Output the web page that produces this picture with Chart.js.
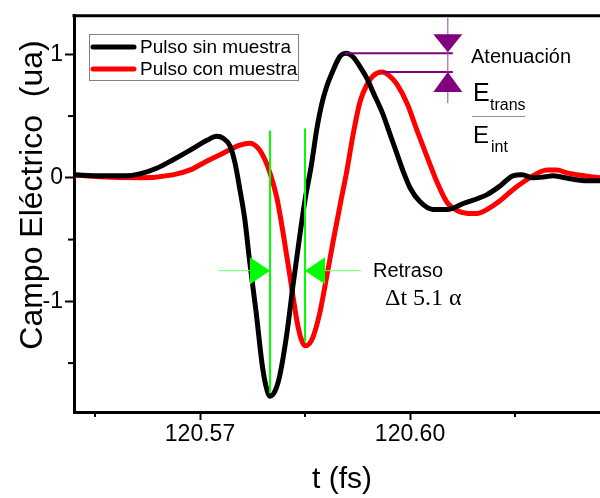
<!DOCTYPE html>
<html>
<head>
<meta charset="utf-8">
<script src="https://cdn.jsdelivr.net/npm/chart.js@4.4.1/dist/chart.umd.min.js"></script>
<style>
  html, body { margin: 0; padding: 0; background: #fff; }
  #wrap { width: 600px; height: 498px; }
</style>
</head>
<body>
<div id="wrap"><canvas id="myChart"></canvas></div>
<script>
// Data
var seriesNames = ["Pulso sin muestra", "Pulso con muestra"];
var tSin = [120.5520, 120.5557, 120.5593, 120.5614, 120.5639, 120.5661, 120.5686, 120.5710, 120.5724, 120.5733,
  120.5743, 120.5750, 120.5757, 120.5764, 120.5771, 120.5780, 120.5789, 120.5794, 120.5800, 120.5807,
  120.5814, 120.5824, 120.5833, 120.5843, 120.5850, 120.5859, 120.5867, 120.5874, 120.5881, 120.5889,
  120.5896, 120.5901, 120.5909, 120.5919, 120.5929, 120.5939, 120.5947, 120.5961, 120.5971, 120.5981,
  120.5990, 120.6000, 120.6014, 120.6033, 120.6053, 120.6076, 120.6110, 120.6129, 120.6147, 120.6160,
  120.6176, 120.6193, 120.6204, 120.6229, 120.6253, 120.6271];
var eSin = [0.024, 0.016, 0.016, 0.032, 0.08, 0.144, 0.224, 0.304, 0.336, 0.32,
  0.256, 0.12, -0.096, -0.336, -0.68, -1.08, -1.52, -1.68, -1.768, -1.728,
  -1.60, -1.264, -0.864, -0.45, -0.18, 0.10, 0.40, 0.60, 0.74, 0.855,
  0.944, 0.99, 1.008, 0.976, 0.896, 0.80, 0.696, 0.52, 0.36, 0.20,
  0.056, -0.08, -0.192, -0.256, -0.256, -0.208, -0.136, -0.064, 0.016, 0.024,
  0.0, 0.008, 0.016, -0.008, -0.024, -0.024];
var tCon = [120.5520, 120.5557, 120.5614, 120.5661, 120.5686, 120.5710, 120.5733, 120.5757, 120.5771, 120.5783,
  120.5793, 120.5800, 120.5810, 120.5819, 120.5829, 120.5839, 120.5844, 120.5850, 120.5856, 120.5861,
  120.5871, 120.5881, 120.5890, 120.5900, 120.5910, 120.5919, 120.5929, 120.5939, 120.5947, 120.5960,
  120.5971, 120.5981, 120.5996, 120.6010, 120.6024, 120.6039, 120.6053, 120.6067, 120.6083, 120.6096,
  120.6110, 120.6129, 120.6147, 120.6171, 120.6196, 120.6210, 120.6224, 120.6250, 120.6271];
var eCon = [0.024, 0.008, 0.0, 0.024, 0.064, 0.136, 0.20, 0.264, 0.28, 0.24,
  0.144, 0.04, -0.168, -0.456, -0.816, -1.176, -1.296, -1.36, -1.344, -1.296,
  -1.096, -0.80, -0.52, -0.224, 0.064, 0.36, 0.624, 0.76, 0.824, 0.856,
  0.824, 0.76, 0.60, 0.384, 0.176, -0.04, -0.20, -0.264, -0.288, -0.288,
  -0.256, -0.184, -0.096, 0.0, 0.064, 0.064, 0.04, 0.016, 0.0];

var xTicks = [120.555, 120.57, 120.585, 120.60, 120.615];
var xLabels = ["", "120.57", "", "120.60", ""];
var yTicks = [-1.5, -1, -0.5, 0, 0.5, 1];
var yLabels = ["", "-1", "", "0", "", "1"];

// annotation anchors (data units)
var minSin = [120.5800, -1.768];
var minCon = [120.5850, -1.36];
var peakSin = [120.5907, 1.008];
var peakCon = [120.5960, 0.856];
var delayY = -0.752;
var markX = 120.6054;

var sans = "'Liberation Sans', Arial, sans-serif";
var serif = "'Liberation Serif', 'Times New Roman', serif";

function toPoints(xs, ys) {
  return xs.map(function (v, i) { return { x: v, y: ys[i] }; });
}

function tri(ctx, pts, color) {
  ctx.fillStyle = color;
  ctx.beginPath();
  ctx.moveTo(pts[0][0], pts[0][1]);
  ctx.lineTo(pts[1][0], pts[1][1]);
  ctx.lineTo(pts[2][0], pts[2][1]);
  ctx.closePath();
  ctx.fill();
}

function line(ctx, x1, y1, x2, y2, color, w) {
  ctx.strokeStyle = color;
  ctx.lineWidth = w;
  ctx.beginPath();
  ctx.moveTo(x1, y1);
  ctx.lineTo(x2, y2);
  ctx.stroke();
}

var annot = {
  id: "annot",
  afterDatasetsDraw: function (chart) {
    var ctx = chart.ctx, a = chart.chartArea;
    var sx = chart.scales.x, sy = chart.scales.y;
    var px = function (v) { return sx.getPixelForValue(v); };
    var py = function (v) { return sy.getPixelForValue(v); };
    ctx.save();
    ctx.lineCap = "butt";

    // top frame
    line(ctx, a.left - 1.5, a.top, a.right, a.top, "#000", 3);

    // minor ticks
    xTicks.forEach(function (v, i) {
      if (!xLabels[i]) line(ctx, px(v), a.bottom, px(v), a.bottom + 5, "#000", 2);
    });
    yTicks.forEach(function (v, i) {
      if (!yLabels[i]) line(ctx, a.left, py(v), a.left - 6, py(v), "#000", 2);
    });

    // delay markers (green)
    var g = "#00ff00";
    var xl = px(minSin[0]), xr = px(minCon[0]), ya = py(delayY);
    line(ctx, xl, py(0.384), xl, py(minSin[1]) - 3, g, 2);
    line(ctx, xr, py(0.40), xr, py(minCon[1]) - 4, g, 2);
    line(ctx, xl - 51, ya, xl - 20, ya, "#66ff66", 1);
    tri(ctx, [[xl - 20, ya - 13.5], [xl - 20, ya + 13.5], [xl, ya]], g);
    line(ctx, xr + 20, ya, xr + 56, ya, "#66ff66", 1);
    tri(ctx, [[xr + 20, ya - 13.5], [xr + 20, ya + 13.5], [xr, ya]], g);

    // attenuation markers (purple)
    var p = "#800080";
    var xm = px(markX), y1 = py(peakSin[1]), y2 = py(peakCon[1]);
    line(ctx, px(peakSin[0]), y1, xm + 5, y1, p, 2);
    line(ctx, px(peakCon[0]), y2, xm + 5, y2, p, 2);
    line(ctx, xm, a.top + 2, xm, y2 + 31, "#a040a0", 1);
    tri(ctx, [[xm - 14.5, y1 - 19], [xm + 14.5, y1 - 19], [xm, y1 - 1]], p);
    tri(ctx, [[xm - 14.5, y2 + 20], [xm + 14.5, y2 + 20], [xm, y2]], p);

    // legend
    ctx.strokeStyle = "#808080";
    ctx.lineWidth = 1;
    ctx.strokeRect(89.5, 34.5, 209, 46);
    ctx.lineCap = "round";
    line(ctx, 93, 47, 134, 47, "#000", 5);
    line(ctx, 93, 69, 134, 69, "#ff0000", 5);
    ctx.fillStyle = "#000";
    ctx.textAlign = "left";
    ctx.textBaseline = "alphabetic";
    ctx.font = "19px " + sans;
    ctx.fillText(seriesNames[0], 140, 53);
    ctx.fillText(seriesNames[1], 140, 75);

    // texts
    ctx.font = "20px " + sans;
    ctx.fillText("Atenuación", 471, 63);
    ctx.fillText("Retraso", 373, 277);
    ctx.font = "25px " + sans;
    ctx.fillText("E", 473, 101);
    ctx.font = "16px " + sans;
    ctx.fillText("trans", 490, 110);
    ctx.font = "24px " + sans;
    ctx.fillText("E", 473, 143);
    ctx.font = "16px " + sans;
    ctx.fillText("int", 491, 152);
    ctx.lineCap = "butt";
    line(ctx, 472, 116.5, 525, 116.5, "#909090", 1);
    ctx.font = "24px " + serif;
    ctx.fillText("\u0394t 5.1 \u03b1", 385, 305);

    // axis titles
    ctx.font = "30px " + sans;
    ctx.textAlign = "center";
    ctx.fillText("t (fs)", 342, 488);
    ctx.save();
    ctx.translate(42, 195);
    ctx.rotate(-Math.PI / 2);
    ctx.font = "32px " + sans;
    ctx.fillText("Campo El\u00e9ctrico  (ua)", 0, 0);
    ctx.restore();

    ctx.restore();
  }
};

new Chart(document.getElementById("myChart"), {
  type: "line",
  data: {
    datasets: [{
      label: seriesNames[0],
      data: toPoints(tSin, eSin),
      borderColor: "#000000",
      backgroundColor: "#000000",
    }, {
      label: seriesNames[1],
      data: toPoints(tCon, eCon),
      borderColor: "#ff0000",
      backgroundColor: "#ff0000",
    }],
  },
  options: {
    responsive: true,
    maintainAspectRatio: false,
    animation: false,
    devicePixelRatio: 1,
    layout: { padding: { top: 11, right: 0, left: 0, bottom: 0 } },
    elements: {
      point: { radius: 0 },
      line: { borderWidth: 5, cubicInterpolationMode: "monotone", borderJoinStyle: "round", borderCapStyle: "round" },
    },
    plugins: {
      legend: { display: false },
      tooltip: { enabled: false },
    },
    scales: {
      x: {
        type: "linear",
        min: 120.552,
        max: 120.62714,
        afterBuildTicks: function (s) { s.ticks = xTicks.map(function (v) { return { value: v }; }); },
        afterFit: function (s) { s.height = 86; },
        ticks: {
          callback: function (v, i) { return xLabels[i]; },
          autoSkip: false,
          maxRotation: 0,
          padding: 1,
          color: "#000",
          font: { family: sans, size: 23 },
        },
        grid: {
          drawOnChartArea: false,
          tickLength: 8,
          tickWidth: 2,
          tickColor: function (c) { return xLabels[c.index] ? "#000" : "rgba(0,0,0,0)"; },
        },
        border: { width: 3, color: "#000" },
      },
      y: {
        min: -1.896,
        max: 1.312,
        afterBuildTicks: function (s) { s.ticks = yTicks.map(function (v) { return { value: v }; }); },
        afterFit: function (s) { s.width = 74; },
        ticks: {
          callback: function (v, i) { return yLabels[i]; },
          autoSkip: false,
          padding: 2,
          color: "#000",
          font: { family: sans, size: 23 },
        },
        grid: {
          drawOnChartArea: false,
          tickLength: 9,
          tickWidth: 2,
          tickColor: function (c) { return yLabels[c.index] ? "#000" : "rgba(0,0,0,0)"; },
        },
        border: { width: 3, color: "#000" },
      },
    },
  },
  plugins: [annot],
});
</script>
</body>
</html>
